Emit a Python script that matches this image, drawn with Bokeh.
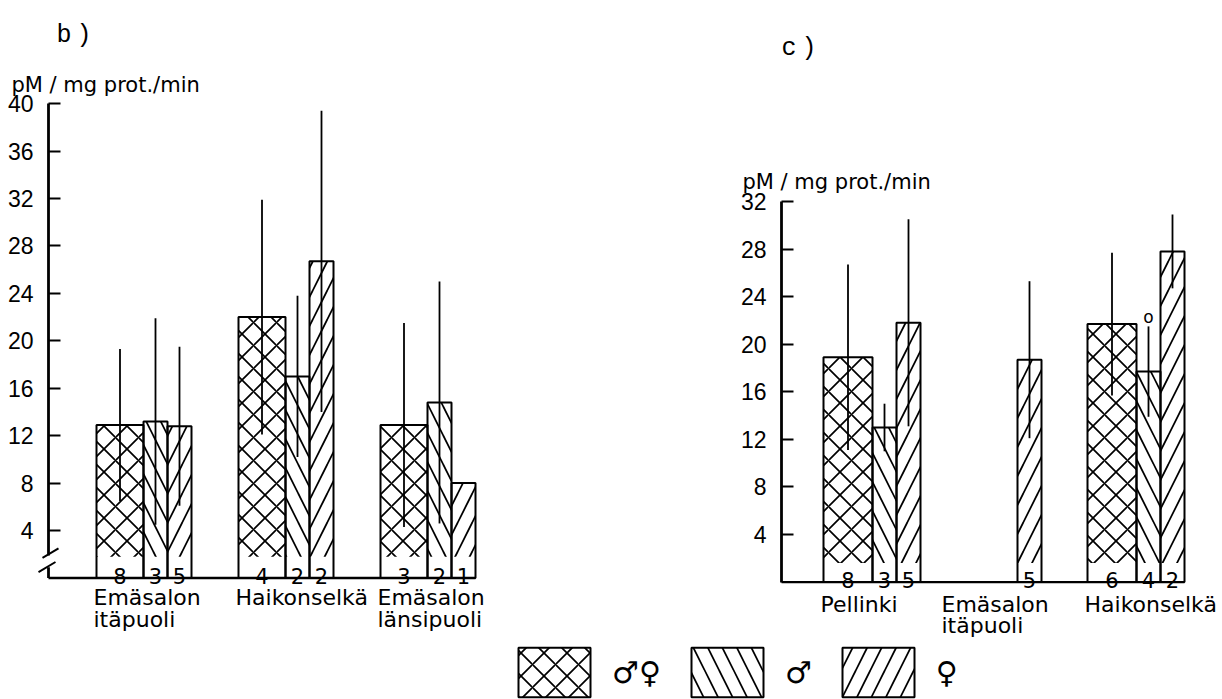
from bokeh.plotting import figure
from bokeh.models import (Range1d, LinearAxis, FixedTicker, ColumnDataSource,
                          Legend, LegendItem)
from bokeh.core.properties import value
from bokeh.embed import file_html
from bokeh.resources import INLINE

# ---------------------------------------------------------------- data
# panel b)
left_sites = ["Emäsalon\nitäpuoli", "Haikonselkä", "Emäsalon\nlänsipuoli"]
left_both_mean = [12.9, 22.0, 12.9]
left_both_sd = [6.4, 9.9, 8.6]
left_both_n = [8, 4, 3]
left_male_mean = [13.2, 17.0, 14.8]
left_male_sd = [8.7, 6.8, 10.2]
left_male_n = [3, 2, 2]
left_female_mean = [12.8, 26.7, 8.0]
left_female_sd = [6.7, 12.7, None]
left_female_n = [5, 2, 1]

# panel c)
right_sites = ["Pellinki", "Emäsalon\nitäpuoli", "Haikonselkä"]
right_both_mean = [18.9, None, 21.7]
right_both_sd = [7.8, None, 6.0]
right_both_n = [8, None, 6]
right_male_mean = [13.0, None, 17.7]
right_male_sd = [2.0, None, 3.8]
right_male_n = [3, None, 4]
right_male_note = [None, None, "o"]
right_female_mean = [21.8, 18.7, 27.8]
right_female_sd = [8.7, 6.6, 3.1]
right_female_n = [5, 5, 2]

left_ticks = [4, 8, 12, 16, 20, 24, 28, 32, 36, 40]
right_ticks = [4, 8, 12, 16, 20, 24, 28, 32]
unit_label = "pM / mg  prot./min"
panel_tags = ["b\u2009)", "c\u2009)"]
sex_labels = ["♂♀", "♂", "♀"]

# ---------------------------------------------------------------- layout
W, H = 1222, 699
FONT = "DejaVu Sans"
TICK_FONT = "Liberation Sans"
HATCHES = ["diagonal_cross", "left_diagonal_line", "right_diagonal_line"]
HATCH_SCALES = [23, 29, 29]


def y_window(zero_px, px_per_unit):
    start = -(H - zero_px) / px_per_unit
    return Range1d(start, start + H / px_per_unit)


p = figure(width=W, height=H, x_range=Range1d(0, W),
           y_range=y_window(577.5, 11.86),
           x_axis_location=None, y_axis_location=None,
           output_backend="svg", toolbar_location=None, min_border=0)
p.extra_y_ranges = {"c": y_window(581.6, 11.893)}
p.grid.grid_line_color = None
p.outline_line_color = None
p.background_fill_color = "white"
p.border_fill_color = "white"

panels = [
    dict(range_name="default", axis_x=48, top=40, ticks=left_ticks,
         origins=[96, 238, 380], widths=[47, 24, 24], sites=left_sites,
         series=[(left_both_mean, left_both_sd, left_both_n, None),
                 (left_male_mean, left_male_sd, left_male_n, None),
                 (left_female_mean, left_female_sd, left_female_n, None)],
         floor=1.8, broken=True, tag_x=56, tag_y=45.7, unit_y=41.6,
         unit_x=11, site_y=-0.6),
    dict(range_name="c", axis_x=781, top=32, ticks=right_ticks,
         origins=[823, 944, 1087], widths=[49, 24, 24], sites=right_sites,
         series=[(right_both_mean, right_both_sd, right_both_n, None),
                 (right_male_mean, right_male_sd, right_male_n, right_male_note),
                 (right_female_mean, right_female_sd, right_female_n, None)],
         floor=1.6, broken=False, tag_x=781, tag_y=44.9, unit_y=33.6,
         unit_x=742, site_y=-0.8),
]

legend_renderers = [[], [], []]

for pan in panels:
    rn = pan["range_name"]
    right_edge = pan["axis_x"]
    for k, (mean, sd, n, note) in enumerate(pan["series"]):
        offset = sum(pan["widths"][:k])
        cols = dict(left=[], right=[], top=[], floor=[], x=[], lo=[], hi=[],
                    n=[], note=[], note_y=[])
        for i, m in enumerate(mean):
            if m is None:
                continue
            x0 = pan["origins"][i] + offset
            x1 = x0 + pan["widths"][k]
            s = sd[i]
            cols["left"].append(x0)
            cols["right"].append(x1)
            cols["top"].append(m)
            cols["floor"].append(pan["floor"])
            cols["x"].append((x0 + x1) / 2)
            cols["lo"].append(m - s if s is not None else m)
            cols["hi"].append(m + s if s is not None else m)
            cols["n"].append(str(n[i]))
            cols["note"].append(note[i] if note and note[i] else "")
            cols["note_y"].append((m + s if s is not None else m) + 0.8)
            right_edge = max(right_edge, x1)
        src = ColumnDataSource(cols)
        outline = p.quad(left="left", right="right", top="top", bottom=0,
                         source=src, fill_color=None, line_color="black",
                         line_width=2, y_range_name=rn)
        hatch = p.quad(left="left", right="right", top="top", bottom="floor",
                       source=src, fill_color=None, line_color=None,
                       hatch_pattern=HATCHES[k], hatch_scale=HATCH_SCALES[k],
                       hatch_weight=1.7, hatch_color="black", y_range_name=rn)
        p.segment(x0="x", y0="lo", x1="x", y1="hi", source=src,
                  line_color="black", line_width=1.8, y_range_name=rn)
        p.text(x="x", y=0.15, text="n", source=src, text_align="center",
               text_baseline="alphabetic", text_font=value(FONT),
               text_font_size="21px", text_color="black", y_range_name=rn)
        p.text(x="x", y="note_y", text="note", source=src,
               text_align="center", text_baseline="alphabetic",
               text_font=value(FONT), text_font_size="17px",
               text_color="black", y_range_name=rn)
        if rn == "default":
            legend_renderers[k] = [outline, hatch]

    # base line of the panel
    p.segment(x0=[pan["axis_x"]], y0=[0], x1=[right_edge], y1=[0],
              line_color="black", line_width=2.4, y_range_name=rn)

    # value axis drawn at its own position
    ax_low = 1.9 if pan["broken"] else 0
    axis = LinearAxis(y_range_name=rn, fixed_location=pan["axis_x"],
                      bounds=(ax_low, pan["top"]),
                      ticker=FixedTicker(ticks=pan["ticks"]),
                      major_tick_in=12, major_tick_out=0,
                      minor_tick_line_color=None,
                      axis_line_width=2.8, axis_line_color="black",
                      major_tick_line_width=2, major_tick_line_color="black",
                      major_label_standoff=15,
                      major_label_text_font=TICK_FONT,
                      major_label_text_font_size="23px",
                      major_label_text_color="black")
    p.add_layout(axis, "left")

    if pan["broken"]:
        ax = pan["axis_x"]
        p.segment(x0=[ax], y0=[0], x1=[ax], y1=[0.9], line_color="black",
                  line_width=2.8, y_range_name=rn)
        p.segment(x0=[ax - 6, ax - 10], y0=[1.7, 0.5],
                  x1=[ax + 10, ax + 7], y1=[2.5, 1.35],
                  line_color="black", line_width=2, y_range_name=rn)

    # site names under the groups
    p.text(x=[o - 3 for o in pan["origins"]], y=pan["site_y"],
           text=pan["sites"], text_align="left", text_baseline="top",
           text_font=value(FONT), text_font_size="22px",
           text_line_height=0.86, text_color="black", y_range_name=rn)

    # unit label
    p.text(x=[pan["unit_x"]], y=[pan["unit_y"]], text=[unit_label],
           text_align="left", text_baseline="alphabetic",
           text_font=value(FONT), text_font_size="21px",
           text_color="black", y_range_name=rn)

# panel tags
for tag, pan in zip(panel_tags, panels):
    p.text(x=[pan["tag_x"]], y=[pan["tag_y"]], text=[tag],
           text_align="left", text_baseline="alphabetic",
           text_font=value("Liberation Mono"), text_font_size="25px",
           text_color="black", y_range_name=pan["range_name"])

legend = Legend(items=[LegendItem(label=lab, renderers=legend_renderers[k])
                       for k, lab in enumerate(sex_labels)],
                location=(509, -4), orientation="horizontal",
                glyph_width=90, glyph_height=62, label_standoff=13,
                spacing=21, padding=0, margin=0, border_line_color=None,
                background_fill_alpha=0, label_text_font=FONT,
                label_text_font_size="30px", label_text_color="black",
                label_text_baseline="middle")
p.add_layout(legend, "center")

open("out.html", "w").write(file_html(p, INLINE))
